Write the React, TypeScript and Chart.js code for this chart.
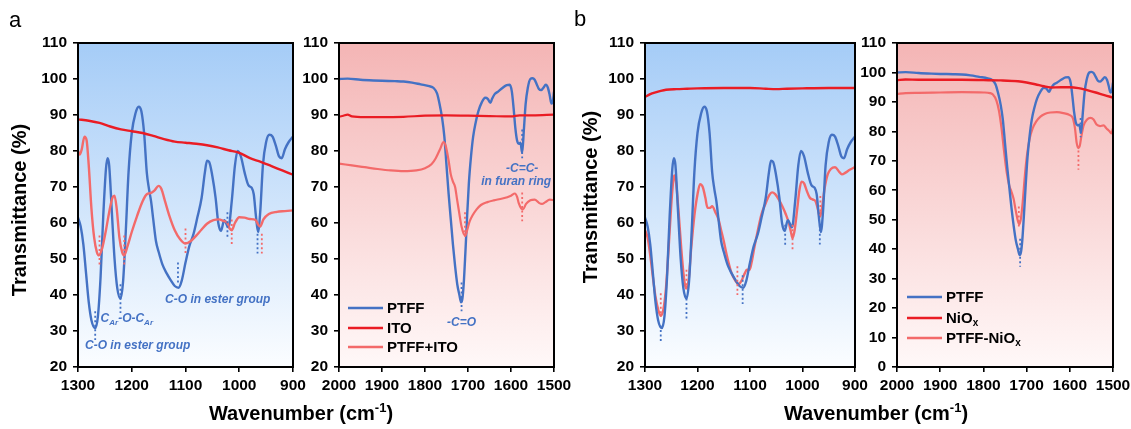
import React, { useEffect, useRef } from "react";
import { Chart, registerables } from "chart.js";

Chart.register(...registerables);

const FONT = '"Liberation Sans", Arial, Helvetica, sans-serif';
const BLUE = "#4472c4";
const RED = "#ea1c24";
const PINK = "#f36a6a";

// ---------------- data (wavenumber cm-1, transmittance %) ----------------
const PTFF_LOW: [number, number][] = [
  [1300, 61.5], [1295, 59], [1290, 54], [1285, 46], [1280, 38], [1275, 33], [1268, 30.8], [1263, 34],
  [1258, 45], [1253, 62], [1248, 75], [1245, 78], [1242, 76], [1237, 63], [1232, 50], [1227, 42],
  [1221, 39], [1216, 44], [1211, 58], [1206, 74], [1200, 85], [1193, 90.5], [1187, 92.3], [1182, 91],
  [1177, 85], [1172, 74], [1168, 69.5], [1164, 66], [1160, 61], [1155, 55], [1150, 52], [1143, 48.5],
  [1135, 46], [1127, 44], [1120, 42.5], [1113, 42], [1107, 44], [1100, 49], [1093, 53.5], [1085, 57],
  [1078, 61.5], [1070, 67], [1064, 74], [1060, 77.3], [1056, 77], [1050, 73], [1044, 67], [1039, 60],
  [1034, 57.8], [1028, 60.8], [1020, 58.8], [1014, 66], [1008, 76], [1003, 80], [997, 78.5], [990, 74],
  [983, 70.5], [977, 69.8], [973, 68], [969, 62], [965, 57.5], [961, 63], [956, 76], [950, 82.5],
  [944, 84.5], [938, 84], [932, 81.5], [926, 78.5], [921, 78], [915, 80.5], [908, 82.5], [900, 84],
];
const ITO_LOW: [number, number][] = [
  [1300, 88.8], [1280, 88.4], [1260, 87.8], [1240, 86.8], [1220, 86], [1200, 85.5], [1180, 85],
  [1160, 84.2], [1140, 83.3], [1120, 82.6], [1100, 82.3], [1080, 82], [1060, 81.6], [1040, 81],
  [1020, 80.2], [1000, 79.5], [980, 78], [960, 77], [940, 75.8], [920, 74.6], [900, 73.4],
];
const PTFF_ITO_LOW: [number, number][] = [
  [1300, 80], [1297, 79], [1293, 80.5], [1288, 84], [1284, 83], [1280, 76], [1275, 64], [1270, 56],
  [1265, 52], [1261, 51], [1255, 53], [1248, 58], [1242, 63], [1236, 67], [1232, 67.6], [1228, 64],
  [1223, 56], [1218, 52], [1214, 51], [1208, 53.5], [1200, 57.5], [1190, 62], [1180, 66], [1172, 68],
  [1165, 68.3], [1158, 69], [1150, 70.3], [1145, 69.5], [1138, 66], [1130, 62], [1120, 58], [1110, 55.5],
  [1100, 54.3], [1090, 55], [1080, 56.5], [1070, 58.2], [1060, 59.8], [1048, 60.8], [1038, 61], [1030, 60.6],
  [1022, 60], [1018, 58.5], [1014, 58], [1008, 60], [1000, 61.6], [990, 61.5], [980, 61.1], [970, 60.9],
  [965, 59.6], [961, 59], [955, 61], [945, 62.5], [930, 63.1], [915, 63.3], [900, 63.5],
];
const PTFF_HIGH: [number, number][] = [
  [2000, 100], [1980, 100.1], [1950, 99.8], [1920, 99.6], [1900, 99.5], [1870, 99.4], [1850, 99.3],
  [1830, 99], [1810, 98.5], [1790, 98], [1780, 97.5], [1772, 96], [1766, 93], [1760, 89], [1755, 84],
  [1750, 76], [1745, 68], [1740, 61], [1735, 54], [1730, 48], [1725, 43], [1720, 40], [1716, 38],
  [1713, 39], [1710, 43], [1706, 52], [1702, 62], [1698, 71], [1693, 78.5], [1688, 84], [1682, 88],
  [1676, 91], [1668, 93.5], [1660, 94.8], [1654, 94.5], [1648, 93.4], [1644, 94.5], [1638, 95.8],
  [1630, 96.5], [1620, 97.5], [1610, 98.3], [1603, 98.4], [1598, 96.5], [1594, 92], [1590, 86.5],
  [1586, 83], [1581, 82], [1578, 82.3], [1574, 79.5], [1570, 86], [1566, 93], [1561, 97.5], [1555, 100],
  [1550, 100.2], [1545, 99.8], [1540, 98.5], [1535, 97.2], [1530, 96.9], [1525, 97.5], [1519, 98.4],
  [1514, 97.5], [1510, 95.5], [1506, 93.2], [1503, 93.6], [1500, 96.5],
];
const ITO_HIGH: [number, number][] = [
  [2000, 89.5], [1990, 89.8], [1980, 90.1], [1970, 89.6], [1940, 89.4], [1900, 89.4], [1850, 89.5],
  [1800, 89.8], [1750, 89.9], [1700, 89.8], [1650, 89.7], [1600, 89.6], [1580, 89.9], [1550, 89.9],
  [1500, 90.1],
];
const PTFF_ITO_HIGH: [number, number][] = [
  [2000, 76.5], [1970, 76], [1940, 75.5], [1910, 75], [1880, 74.6], [1850, 74.4], [1820, 74.6],
  [1800, 75.2], [1785, 76.3], [1775, 78], [1765, 80.5], [1757, 82.5], [1752, 81.5], [1746, 78],
  [1740, 73.5], [1735, 71.5], [1730, 70], [1726, 67], [1720, 62.5], [1715, 59], [1710, 57], [1706, 56.5],
  [1702, 58], [1696, 60.5], [1690, 62], [1680, 63.8], [1670, 65], [1655, 65.8], [1640, 66.3], [1620, 66.8],
  [1600, 67.6], [1591, 68.2], [1586, 67.3], [1582, 65.5], [1576, 64], [1572, 63.8], [1565, 65.3],
  [1555, 66.3], [1545, 66.5], [1535, 65.6], [1528, 65.3], [1520, 65.8], [1510, 66.5], [1500, 66.3],
];
const NIO_LOW: [number, number][] = [
  [1300, 95], [1290, 95.8], [1280, 96.3], [1270, 96.7], [1260, 97], [1240, 97.2], [1220, 97.3],
  [1200, 97.4], [1150, 97.5], [1100, 97.5], [1070, 97.3], [1050, 97.2], [1030, 97.3], [1000, 97.4],
  [950, 97.5], [900, 97.5],
];
const PTFF_NIO_LOW: [number, number][] = [
  [1300, 58], [1295, 56], [1290, 51], [1285, 45], [1280, 39.5], [1275, 36], [1270, 34.2], [1265, 36],
  [1260, 42], [1255, 53], [1250, 65], [1246, 72], [1244, 73.2], [1241, 71.5], [1236, 63], [1231, 53],
  [1226, 45], [1222, 41.8], [1217, 44], [1212, 53], [1206, 62], [1200, 68], [1195, 70.8], [1190, 70],
  [1185, 67], [1181, 64.2], [1176, 64.2], [1172, 64.7], [1166, 63], [1160, 61], [1155, 58], [1150, 55],
  [1145, 51.5], [1140, 48.5], [1135, 46], [1128, 44], [1122, 43], [1116, 44], [1110, 46], [1106, 47],
  [1101, 47], [1097, 49], [1092, 53], [1085, 58], [1078, 62.5], [1070, 65.5], [1063, 67.8], [1058, 68.5],
  [1052, 68], [1045, 66.5], [1038, 64.5], [1032, 62.5], [1026, 60], [1022, 57.5], [1019, 55.8], [1015, 58],
  [1010, 64], [1006, 69], [1002, 71.5], [997, 71], [992, 69], [986, 67], [980, 66.5], [975, 66],
  [971, 64], [967, 61.7], [963, 64], [958, 69.5], [952, 73.5], [946, 75], [938, 75.5], [930, 74.2],
  [925, 73.5], [918, 74], [910, 74.8], [900, 75.5],
];
const NIO_HIGH: [number, number][] = [
  [2000, 97.4], [1980, 97.6], [1950, 97.5], [1900, 97.5], [1850, 97.5], [1800, 97.4], [1760, 97.3],
  [1720, 97], [1700, 96.6], [1680, 96], [1660, 95.3], [1645, 94.9], [1620, 95], [1600, 95], [1580, 94.7],
  [1560, 94], [1540, 93.2], [1520, 92.3], [1500, 91.5],
];
const PTFF_NIO_HIGH: [number, number][] = [
  [2000, 92.7], [1980, 93], [1950, 93.1], [1900, 93.2], [1850, 93.3], [1800, 93.2], [1785, 93],
  [1778, 92.5], [1770, 90.5], [1764, 87], [1758, 81], [1752, 73], [1746, 66], [1740, 61.5], [1735, 59.5],
  [1730, 57], [1725, 53], [1720, 49.5], [1717, 48.5], [1713, 50.5], [1709, 56], [1704, 65], [1699, 72],
  [1693, 77.5], [1686, 81], [1678, 83.3], [1668, 85], [1658, 85.9], [1645, 86.4], [1630, 86.5],
  [1615, 86.2], [1600, 85.5], [1593, 84.5], [1588, 81], [1584, 76], [1580, 74.3], [1577, 75], [1573, 78.5],
  [1568, 82], [1560, 84], [1552, 84.6], [1545, 84], [1538, 82.3], [1530, 81.8], [1522, 82], [1515, 81],
  [1508, 80], [1504, 79.3], [1500, 81],
];

const X_TICKS_LOW = [1300, 1200, 1100, 1000, 900];
const X_TICKS_HIGH = [2000, 1900, 1800, 1700, 1600, 1500];

// dotted peak markers: [wavenumber, from %, to %]
const DOTS_A_LOW_BLUE: [number, number, number][] = [[1268, 35.5, 27.5], [1221, 43, 35], [1114, 49, 43.5], [1022, 63, 55.5], [966, 57, 51.5]];
const DOTS_A_LOW_PINK: [number, number, number][] = [[1260, 56.5, 48.5], [1214, 56.5, 48.5], [1100, 58.5, 51], [1014, 61, 53.5], [958, 57, 51.5]];
const DOTS_A_HIGH_BLUE: [number, number, number][] = [[1715, 43.5, 35.5], [1574, 86, 78]];
const DOTS_A_HIGH_PINK: [number, number, number][] = [[1707, 63, 55.5], [1574, 68.5, 60.5]];
const DOTS_B_LOW_BLUE: [number, number, number][] = [[1270, 31.5, 26.5], [1221, 39, 33.5], [1114, 45.5, 37.5], [1033, 59.5, 53.5], [967, 59.5, 54]];
const DOTS_B_LOW_PINK: [number, number, number][] = [[1270, 40.5, 34], [1221, 47, 42], [1124, 48, 40], [1019, 59.5, 52.5], [966, 67.5, 62]];
const DOTS_B_HIGH_BLUE: [number, number, number][] = [[1715, 43.5, 34], [1575, 84.5, 78]];
const DOTS_B_HIGH_PINK: [number, number, number][] = [[1718, 54.5, 47.5], [1580, 73.5, 67]];

type Part = { t: string; sub?: boolean; sup?: boolean };
type Note = { x: number; y: number; align: CanvasTextAlign; parts: Part[] };

const NOTES_A_LOW: Note[] = [
  { x: 1287, y: 26, align: "left", parts: [{ t: "C-O in ester group" }] },
  { x: 1258, y: 33.3, align: "left", parts: [{ t: "C" }, { t: "Ar", sub: true }, { t: "-O-C" }, { t: "Ar", sub: true }] },
  { x: 1138, y: 38.8, align: "left", parts: [{ t: "C-O in ester group" }] },
];
const NOTES_A_HIGH: Note[] = [
  { x: 1715, y: 32.2, align: "center", parts: [{ t: "-C=O" }] },
  { x: 1574, y: 75.2, align: "center", parts: [{ t: "-C=C-" }] },
  { x: 1588, y: 71.6, align: "center", parts: [{ t: "in furan ring" }] },
];

const LEGEND_A: { color: string; parts: Part[] }[] = [
  { color: BLUE, parts: [{ t: "PTFF" }] },
  { color: RED, parts: [{ t: "ITO" }] },
  { color: PINK, parts: [{ t: "PTFF+ITO" }] },
];
const LEGEND_B: { color: string; parts: Part[] }[] = [
  { color: BLUE, parts: [{ t: "PTFF" }] },
  { color: RED, parts: [{ t: "NiO" }, { t: "x", sub: true }] },
  { color: PINK, parts: [{ t: "PTFF-NiO" }, { t: "x", sub: true }] },
];

// ---------------- layout ----------------
const H = 429;
const TOP = 43;
const BOTTOM = 367;
const YW = 70;
const PR = 30;

type Panel = {
  areaLeft: number;
  areaW: number;
  xMin: number;
  xMax: number;
  xTicks: number[];
  yMin: number;
  yMax: number;
  bg: [string, string];
  series: { data: [number, number][]; color: string; width: number }[];
  dots: { list: [number, number, number][]; color: string }[];
  notes: Note[];
  legend?: { items: { color: string; parts: Part[] }[]; dx: number; rows: number[] };
};

const PANELS: Panel[] = [
  {
    areaLeft: 78, areaW: 215, xMin: 900, xMax: 1300, xTicks: X_TICKS_LOW, yMin: 20, yMax: 110,
    bg: ["#a5ccf7", "#fbfdff"],
    series: [
      { data: ITO_LOW, color: RED, width: 2.4 },
      { data: PTFF_ITO_LOW, color: PINK, width: 2.4 },
      { data: PTFF_LOW, color: BLUE, width: 2.4 },
    ],
    dots: [{ list: DOTS_A_LOW_BLUE, color: BLUE }, { list: DOTS_A_LOW_PINK, color: PINK }],
    notes: NOTES_A_LOW,
  },
  {
    areaLeft: 339, areaW: 215, xMin: 1500, xMax: 2000, xTicks: X_TICKS_HIGH, yMin: 20, yMax: 110,
    bg: ["#f4b5b5", "#fff8f8"],
    series: [
      { data: ITO_HIGH, color: RED, width: 2.2 },
      { data: PTFF_ITO_HIGH, color: PINK, width: 2.2 },
      { data: PTFF_HIGH, color: BLUE, width: 2.4 },
    ],
    dots: [{ list: DOTS_A_HIGH_BLUE, color: BLUE }, { list: DOTS_A_HIGH_PINK, color: PINK }],
    notes: NOTES_A_HIGH,
    legend: { items: LEGEND_A, dx: 9, rows: [-59, -39, -20] },
  },
  {
    areaLeft: 645, areaW: 210, xMin: 900, xMax: 1300, xTicks: X_TICKS_LOW, yMin: 20, yMax: 110,
    bg: ["#a5ccf7", "#fbfdff"],
    series: [
      { data: NIO_LOW, color: RED, width: 2.4 },
      { data: PTFF_LOW, color: BLUE, width: 2.4 },
      { data: PTFF_NIO_LOW, color: PINK, width: 2.4 },
    ],
    dots: [{ list: DOTS_B_LOW_BLUE, color: BLUE }, { list: DOTS_B_LOW_PINK, color: PINK }],
    notes: [],
  },
  {
    areaLeft: 897, areaW: 216, xMin: 1500, xMax: 2000, xTicks: X_TICKS_HIGH, yMin: 0, yMax: 110,
    bg: ["#f4b5b5", "#fff8f8"],
    series: [
      { data: NIO_HIGH, color: RED, width: 2.4 },
      { data: PTFF_HIGH, color: BLUE, width: 2.4 },
      { data: PTFF_NIO_HIGH, color: PINK, width: 2.2 },
    ],
    dots: [{ list: DOTS_B_HIGH_BLUE, color: BLUE }, { list: DOTS_B_HIGH_PINK, color: PINK }],
    notes: [],
    legend: { items: LEGEND_B, dx: 10, rows: [-70, -49, -29] },
  },
];

function drawParts(ctx: CanvasRenderingContext2D, parts: Part[], x: number, y: number, align: CanvasTextAlign, size: number, style: string) {
  const big = `${style} ${size}px ${FONT}`;
  const small = `${style} ${Math.round(size * 0.68)}px ${FONT}`;
  let total = 0;
  for (const p of parts) {
    ctx.font = p.sub || p.sup ? small : big;
    total += ctx.measureText(p.t).width;
  }
  let cx = align === "center" ? x - total / 2 : align === "right" ? x - total : x;
  ctx.textAlign = "left";
  ctx.textBaseline = "middle";
  for (const p of parts) {
    ctx.font = p.sub || p.sup ? small : big;
    const dy = p.sub ? size * 0.32 : p.sup ? -size * 0.35 : 0;
    ctx.fillText(p.t, cx, y + dy);
    cx += ctx.measureText(p.t).width;
  }
}

function PanelChart({ p }: { p: Panel }) {
  const ref = useRef<HTMLCanvasElement>(null);
  useEffect(() => {
    const canvas = ref.current!;
    const bgPlugin = {
      id: "bgGrad",
      beforeDatasetsDraw(chart: any) {
        const { ctx, chartArea: a } = chart;
        const g = ctx.createLinearGradient(0, a.top, 0, a.bottom);
        g.addColorStop(0, p.bg[0]);
        g.addColorStop(1, p.bg[1]);
        ctx.save();
        ctx.fillStyle = g;
        ctx.fillRect(a.left, a.top, a.right - a.left, a.bottom - a.top);
        ctx.restore();
      },
    };
    const overlayPlugin = {
      id: "overlay",
      afterDatasetsDraw(chart: any) {
        const { ctx, chartArea: a } = chart;
        const xs = chart.scales.x;
        const ys = chart.scales.y;
        ctx.save();
        ctx.lineWidth = 1.8;
        ctx.setLineDash([2, 2.5]);
        for (const d of p.dots) {
          ctx.strokeStyle = d.color;
          for (const [w, y1, y2] of d.list) {
            const px = xs.getPixelForValue(w);
            ctx.beginPath();
            ctx.moveTo(px, ys.getPixelForValue(y1));
            ctx.lineTo(px, ys.getPixelForValue(y2));
            ctx.stroke();
          }
        }
        ctx.setLineDash([]);
        ctx.fillStyle = BLUE;
        for (const n of p.notes) {
          drawParts(ctx, n.parts, xs.getPixelForValue(n.x), ys.getPixelForValue(n.y), n.align, 12, "italic bold");
        }
        if (p.legend) {
          const L = p.legend;
          L.items.forEach((it, i) => {
            const y = a.bottom + L.rows[i];
            ctx.strokeStyle = it.color;
            ctx.lineWidth = 2.6;
            ctx.beginPath();
            ctx.moveTo(a.left + L.dx, y);
            ctx.lineTo(a.left + L.dx + 35, y);
            ctx.stroke();
            ctx.fillStyle = "#000";
            drawParts(ctx, it.parts, a.left + L.dx + 39, y + 0.5, "left", 15, "bold");
          });
        }
        ctx.strokeStyle = "#000";
        ctx.lineWidth = 2;
        ctx.strokeRect(a.left, a.top, a.right - a.left, a.bottom - a.top);
        ctx.restore();
      },
    };
    const tickFont = { family: FONT, size: 15.5, weight: "bold" as const };
    const chart = new Chart(canvas, {
      type: "line",
      data: {
        datasets: p.series.map((s) => ({
          data: s.data.map(([x, y]) => ({ x, y })),
          borderColor: s.color,
          borderWidth: s.width,
          pointRadius: 0,
          cubicInterpolationMode: "monotone" as const,
          fill: false,
        })),
      },
      options: {
        responsive: false,
        animation: false,
        events: [],
        layout: { padding: { left: 0, right: PR, top: TOP, bottom: 0 } },
        plugins: { legend: { display: false }, tooltip: { enabled: false } },
        scales: {
          x: {
            type: "linear",
            reverse: true,
            min: p.xMin,
            max: p.xMax,
            afterFit: (s: any) => {
              s.height = H - BOTTOM;
              s.paddingLeft = 0;
              s.paddingRight = 0;
            },
            afterBuildTicks: (s: any) => {
              s.ticks = p.xTicks.map((v) => ({ value: v }));
            },
            ticks: {
              callback: (v: any) => String(v),
              font: tickFont,
              color: "#000",
              maxRotation: 0,
              autoSkip: false,
              padding: 4,
            },
            grid: { drawOnChartArea: false, tickLength: 5, color: "#000", lineWidth: 1.6 },
            border: { color: "#000", width: 2 },
          },
          y: {
            type: "linear",
            min: p.yMin,
            max: p.yMax,
            afterFit: (s: any) => {
              s.width = YW;
              s.paddingTop = 0;
              s.paddingBottom = 0;
            },
            ticks: {
              stepSize: 10,
              callback: (v: any) => String(v),
              font: tickFont,
              color: "#000",
              padding: 6,
            },
            grid: { drawOnChartArea: false, tickLength: 5, color: "#000", lineWidth: 1.6 },
            border: { color: "#000", width: 2 },
          },
        },
      },
      plugins: [bgPlugin, overlayPlugin],
    } as any);
    return () => chart.destroy();
  }, [p]);
  return (
    <canvas
      ref={ref}
      width={YW + p.areaW + PR}
      height={H}
      style={{ position: "absolute", left: p.areaLeft - YW, top: 0 }}
    />
  );
}

const titleStyle: React.CSSProperties = {
  position: "absolute",
  fontFamily: FONT,
  fontWeight: "bold",
  fontSize: 20,
  lineHeight: "24px",
  color: "#000",
  textAlign: "center",
  whiteSpace: "nowrap",
};

function XTitle({ cx }: { cx: number }) {
  return (
    <div style={{ ...titleStyle, left: cx - 150, width: 300, top: 401 }}>
      Wavenumber (cm<sup style={{ fontSize: 13, lineHeight: 0 }}>-1</sup>)
    </div>
  );
}

function YTitle({ cx, cy }: { cx: number; cy: number }) {
  return (
    <div
      style={{
        ...titleStyle,
        left: cx - 120,
        top: cy - 12,
        width: 240,
        transform: "rotate(-90deg)",
        transformOrigin: "50% 50%",
      }}
    >
      Transmittance (%)
    </div>
  );
}

export default function App() {
  return (
    <div
      style={{
        position: "absolute",
        left: 0,
        top: 0,
        width: 1131,
        height: H,
        overflow: "hidden",
        background: "#fff",
      }}
    >
      {PANELS.map((p, i) => (
        <PanelChart key={i} p={p} />
      ))}
      <div style={{ position: "absolute", left: 9, top: 6, fontFamily: FONT, fontSize: 22, lineHeight: "28px" }}>a</div>
      <div style={{ position: "absolute", left: 574, top: 5, fontFamily: FONT, fontSize: 22, lineHeight: "28px" }}>b</div>
      <YTitle cx={19} cy={210} />
      <YTitle cx={590} cy={197} />
      <XTitle cx={301} />
      <XTitle cx={876} />
    </div>
  );
}
